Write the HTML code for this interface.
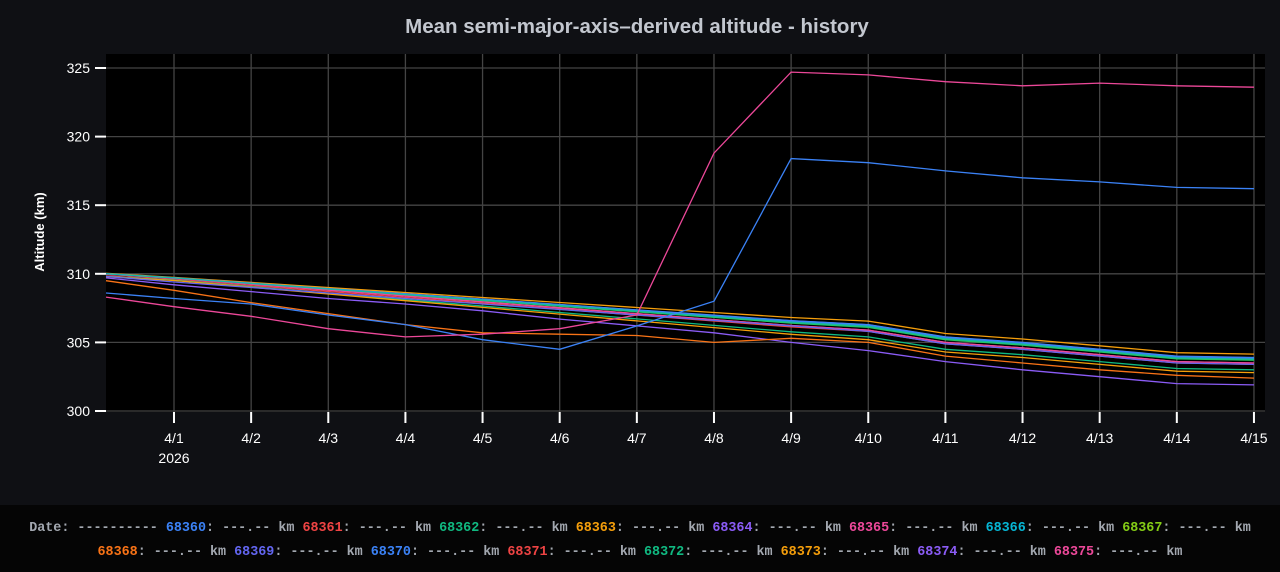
<!DOCTYPE html>
<html><head><meta charset="utf-8"><style>
html,body{margin:0;padding:0;width:1280px;height:572px;background:#000;overflow:hidden}
#top{position:absolute;left:0;top:0;width:1280px;height:505px;background:#0f1014}
#leg{position:absolute;left:0;top:505px;width:1280px;height:67px;background:#050505;font:bold 13.4px "Liberation Mono",monospace;color:#a3a8b0;text-align:center;line-height:24px;padding-top:12px;box-sizing:border-box;white-space:nowrap}
</style></head><body>
<div id="top"><svg id="s" width="1280" height="505" xmlns="http://www.w3.org/2000/svg"></svg></div>
<div id="leg"></div>
<script>
var s=document.getElementById('s'),h='';
h+='<text x="637" y="33" text-anchor="middle" font-family="Liberation Sans,sans-serif" font-weight="bold" font-size="20.5" fill="#c3c7cf">Mean semi-major-axis–derived altitude - history</text>';
h+='<rect x="106" y="54" width="1159" height="358" fill="#000"/>';
function Y(v){return 411-(v-300)*13.72;}
function X(i){return i==0?106:174+77.14*(i-1);}
for(var v=300;v<=325;v+=5){var y=Y(v);h+='<line x1="106" x2="1265" y1="'+y+'" y2="'+y+'" stroke="#444" stroke-width="1.3"/><line x1="95" x2="106" y1="'+y+'" y2="'+y+'" stroke="#fff" stroke-width="2"/><text x="90" y="'+(y+5)+'" text-anchor="end" font-family="Liberation Sans,sans-serif" font-size="14" fill="#fff">'+v+'</text>';}
for(var i=1;i<=15;i++){var x=X(i);h+='<line x1="'+x+'" x2="'+x+'" y1="54" y2="412" stroke="#444" stroke-width="1.3"/><line x1="'+x+'" x2="'+x+'" y1="412" y2="423" stroke="#fff" stroke-width="2"/><text x="'+x+'" y="443" text-anchor="middle" font-family="Liberation Sans,sans-serif" font-size="14" fill="#fff">4/'+i+'</text>';}
h+='<text x="174" y="463" text-anchor="middle" font-family="Liberation Sans,sans-serif" font-size="14" fill="#fff">2026</text>';
h+='<text transform="translate(44,232) rotate(-90)" text-anchor="middle" font-family="Liberation Sans,sans-serif" font-weight="bold" font-size="13" fill="#fff">Altitude (km)</text>';
var B=[310.0,309.7,309.3,308.9,308.5,308.1,307.7,307.3,306.9,306.5,306.2,305.3,304.9,304.4,303.9,303.8];
function line(d,c){var p=d.map(function(v,i){return X(i).toFixed(1)+','+Y(v).toFixed(1)}).join(' ');h+='<polyline points="'+p+'" fill="none" stroke="'+c+'" stroke-width="1.3"/>';}
var cl=[['#4c8dff',0.1],['#ef4444',-0.5],['#10b981',-0.9],['#f59e0b',-1.1],['#8b5cf6',0.05],['#ec4899',-0.3],['#06b6d4',-0.05],['#84cc16',0.0],['#6366f1',0.05],['#22c55e',-0.1],['#f59e0b',0.35],['#ec4899',-0.3],['#3b82f6',0.08],['#14b8a6',-0.02]];
cl.forEach(function(c){line(B.map(function(v,i){return v+c[1]*Math.min(1,i/10)+(i==0?c[1]*0.1:0)+0.2*(Math.min(i,10)/10-0.5)*(c[1]<-0.4?1:0)}),c[0]);});
line([309.8,309.4,309.0,308.6,308.2,307.8,307.4,307.0,306.6,306.2,305.8,304.9,304.5,304.0,303.5,303.4],'#6366f1');
line([309.7,309.2,308.7,308.2,307.8,307.3,306.7,306.2,305.7,305.0,304.4,303.6,303.0,302.5,302.0,301.9],'#8b5cf6');
line([309.5,308.8,307.9,307.1,306.3,305.7,305.6,305.5,305.0,305.3,305.0,304.0,303.5,303.0,302.6,302.4],'#f97316');
line([308.6,308.2,307.8,307.0,306.3,305.2,304.5,306.2,308.0,318.4,318.1,317.5,317.0,316.7,316.3,316.2],'#3b82f6');
line([308.3,307.6,306.9,306.0,305.4,305.6,306.0,307.0,318.8,324.7,324.5,324.0,323.7,323.9,323.7,323.6],'#ec4899');
s.innerHTML=h;
var L=[['68360','#3b82f6'],['68361','#ef4444'],['68362','#10b981'],['68363','#f59e0b'],['68364','#8b5cf6'],['68365','#ec4899'],['68366','#06b6d4'],['68367','#84cc16'],['68368','#f97316'],['68369','#6366f1'],['68370','#3b82f6'],['68371','#ef4444'],['68372','#10b981'],['68373','#f59e0b'],['68374','#8b5cf6'],['68375','#ec4899']];
var g='Date: ---------- ';
L.forEach(function(l,i){g+='<span style="color:'+l[1]+'">'+l[0]+'</span>: ---.-- km ';if(i==7)g+='<br>';});
document.getElementById('leg').innerHTML=g;
</script>
</body></html>
